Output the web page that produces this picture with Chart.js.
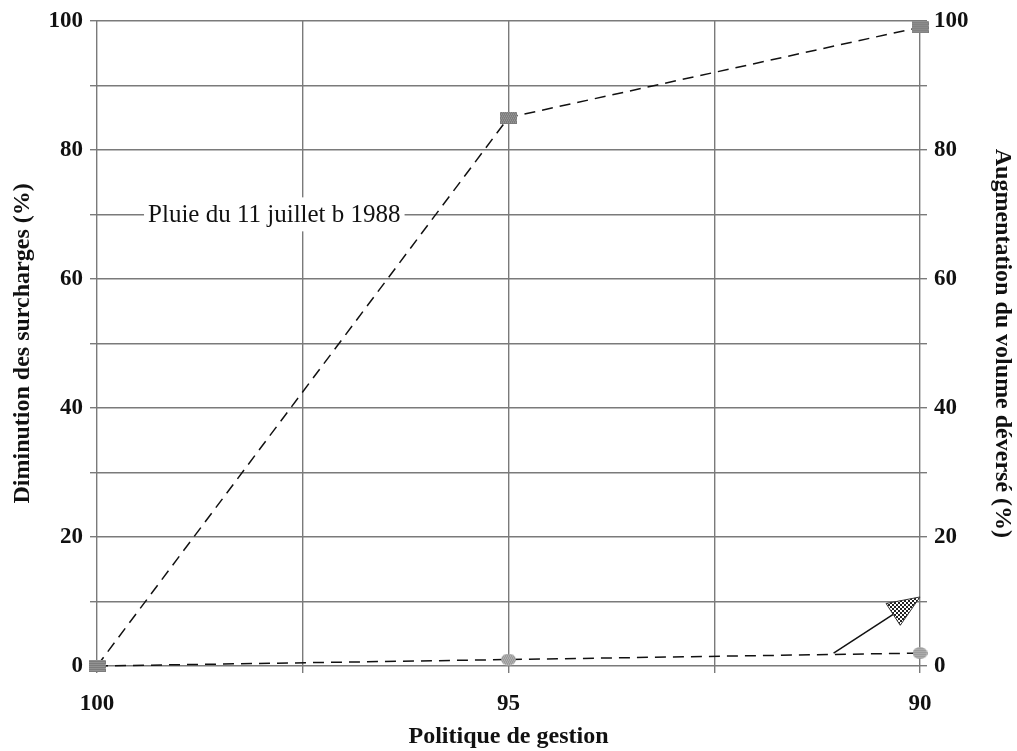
<!DOCTYPE html>
<html><head><meta charset="utf-8">
<script src="https://cdn.jsdelivr.net/npm/chart.js@4.4.0/dist/chart.umd.min.js"></script>
<style>html,body{margin:0;padding:0;background:#fff;}#wrap{width:1017px;height:751px;}</style>
</head><body><div id="wrap"><canvas id="c" width="1017" height="751"></canvas></div>
<script>
// categories (politique de gestion)
const politiques = [100, 95, 90];
// Diminution des surcharges (%) - left axis
const diminution = [0, 85, 99];
// Augmentation du volume déversé (%) - right axis
const augmentation = [0, 1, 2];
// tick labels
const xTickLabels = [100, 95, 90];
const yTickLabels = [0, 20, 40, 60, 80, 100];
// annotation
const noteText = "Pluie du 11 juillet b 1988";
const notePos = [99.38, 70];
const arrowStart = [91.05, 2];
const arrowTip = [90, 10.7];

const FONT = "Liberation Serif, Times New Roman, serif";

function makeMarker(w, h, shape, fill, dot) {
  const c = document.createElement('canvas');
  c.width = w; c.height = h;
  const g = c.getContext('2d');
  g.fillStyle = fill;
  if (shape === 'rect') g.fillRect(0, 0, w, h);
  else { g.beginPath(); g.ellipse(w/2, h/2, w/2, h/2, 0, 0, Math.PI*2); g.fill(); }
  g.globalCompositeOperation = 'source-atop';
  g.fillStyle = dot;
  for (let y = 0; y < h; y += 2) for (let x = (y/2)%2; x < w; x += 2) g.fillRect(x, y, 1, 1);
  return c;
}
const sqMarker = makeMarker(17, 12, 'rect', '#7c7c7c', '#a8a8a8');
const ciMarker = makeMarker(15, 12, 'ellipse', '#9a9a9a', '#c4c4c4');

const annotPlugin = {
  id: 'annot',
  afterDatasetsDraw(chart) {
    const ctx = chart.ctx, xs = chart.scales.x, yl = chart.scales.y, yr = chart.scales.y2;
    ctx.save();
    ctx.font = "25px " + FONT;
    const tx = xs.getPixelForValue(notePos[0]), ty = yl.getPixelForValue(notePos[1]);
    const tw = ctx.measureText(noteText).width;
    ctx.fillStyle = '#fff';
    ctx.fillRect(tx - 4, ty - 17, tw + 8, 34);
    ctx.fillStyle = '#111';
    ctx.textBaseline = 'middle';
    ctx.fillText(noteText, tx, ty + 1);
    // arrow
    const sx = xs.getPixelForValue(arrowStart[0]), sy = yr.getPixelForValue(arrowStart[1]);
    const ex = xs.getPixelForValue(arrowTip[0]), ey = yr.getPixelForValue(arrowTip[1]);
    const ang = Math.atan2(ey - sy, ex - sx);
    const hl = 32, hw = 13;
    const bx = ex - hl * Math.cos(ang), by = ey - hl * Math.sin(ang);
    ctx.strokeStyle = '#111'; ctx.lineWidth = 1.5;
    ctx.beginPath(); ctx.moveTo(sx, sy); ctx.lineTo(bx, by); ctx.stroke();
    const p1 = [bx + hw * Math.sin(ang), by - hw * Math.cos(ang)];
    const p2 = [bx - hw * Math.sin(ang), by + hw * Math.cos(ang)];
    const pc = document.createElement('canvas'); pc.width = 4; pc.height = 4;
    const pg = pc.getContext('2d'); pg.fillStyle = '#fff'; pg.fillRect(0,0,4,4);
    pg.fillStyle = '#222'; pg.fillRect(0,0,2,2); pg.fillRect(2,2,2,2);
    ctx.fillStyle = ctx.createPattern(pc, 'repeat');
    ctx.beginPath(); ctx.moveTo(ex, ey); ctx.lineTo(p1[0], p1[1]); ctx.lineTo(p2[0], p2[1]); ctx.closePath();
    ctx.fill(); ctx.lineWidth = 1; ctx.strokeStyle = '#333'; ctx.stroke();
    ctx.restore();
  }
};

const gridCfg = { color: '#7a7a7a', lineWidth: 1.4, tickLength: 7, tickColor: '#7a7a7a' };
const tickFont = { family: FONT, size: 23, weight: 'bold' };
const titleFont = { family: FONT, size: 24, weight: 'bold' };

new Chart(document.getElementById('c'), {
  type: 'line',
  data: {
    datasets: [
      {
        label: 'Diminution des surcharges (%)',
        data: politiques.map((p, i) => ({ x: p, y: diminution[i] })),
        yAxisID: 'y', borderColor: '#111', borderWidth: 1.5, borderDash: [11, 7],
        pointStyle: sqMarker, pointRadius: 8, tension: 0, fill: false, clip: false
      },
      {
        label: 'Augmentation du volume déversé (%)',
        data: politiques.map((p, i) => ({ x: p, y: augmentation[i] })),
        yAxisID: 'y2', borderColor: '#111', borderWidth: 1.5, borderDash: [11, 7],
        pointStyle: ciMarker, pointRadius: 8, tension: 0, fill: false, clip: false
      }
    ]
  },
  options: {
    responsive: false, animation: false,
    layout: { padding: { top: 20, left: 0, right: 0, bottom: 0 } },
    plugins: { legend: { display: false }, tooltip: { enabled: false } },
    scales: {
      x: {
        type: 'linear', reverse: true, min: 90, max: 100,
        grid: gridCfg, border: { display: false },
        ticks: { stepSize: 2.5, autoSkip: false, color: '#111', padding: 17, font: tickFont,
          callback: v => xTickLabels.includes(v) ? String(v) : '' },
        title: { display: true, text: 'Politique de gestion', color: '#111', padding: { top: 2, bottom: 0 },
          font: titleFont },
        afterFit: s => { s.height = 85; }
      },
      y: {
        position: 'left', min: 0, max: 100,
        grid: gridCfg, border: { display: false },
        ticks: { stepSize: 10, autoSkip: false, color: '#111', padding: 7, font: tickFont,
          callback: v => yTickLabels.includes(v) ? String(v) : '' },
        title: { display: true, text: 'Diminution des surcharges (%)', color: '#111', padding: { top: 8, bottom: 4 },
          font: titleFont },
        afterFit: s => { s.width = 97; }
      },
      y2: {
        position: 'right', min: 0, max: 100,
        grid: { drawOnChartArea: false, color: '#7a7a7a', lineWidth: 1.4, tickLength: 7 }, border: { display: false },
        ticks: { stepSize: 10, autoSkip: false, color: '#111', padding: 7, font: tickFont,
          callback: v => yTickLabels.includes(v) ? String(v) : '' },
        title: { display: true, text: 'Augmentation du volume déversé (%)', color: '#111', padding: { top: 0, bottom: 0 },
          font: titleFont },
        afterFit: s => { s.width = 97; }
      }
    }
  },
  plugins: [annotPlugin]
});
</script></body></html>
